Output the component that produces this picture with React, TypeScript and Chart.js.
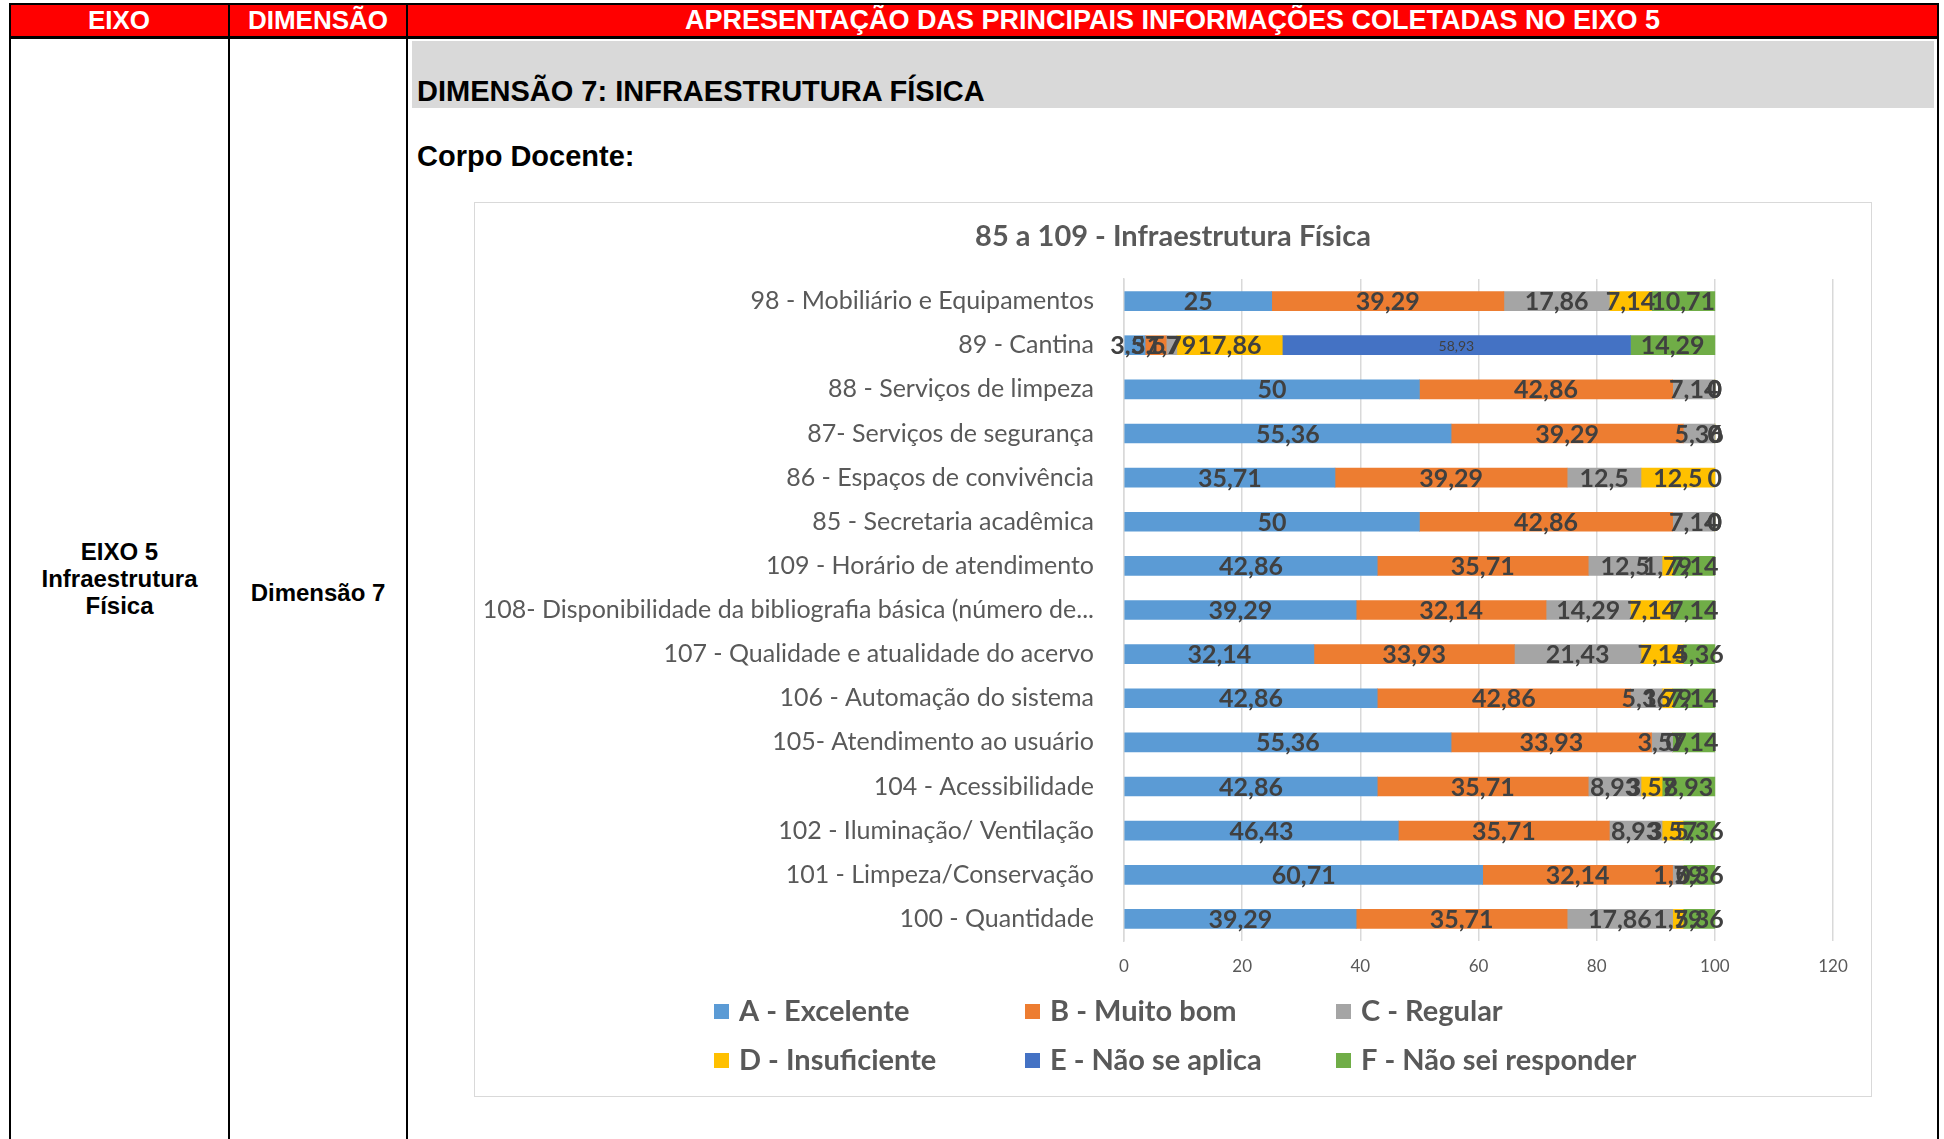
import React, { useEffect, useRef } from "react";
import { Chart, registerables } from "chart.js";

Chart.register(...registerables);

const chartTitle = "85 a 109 - Infraestrutura Física";

const categories = [
  "98 - Mobiliário e Equipamentos",
  "89 - Cantina",
  "88 - Serviços de limpeza",
  "87- Serviços de segurança",
  "86 - Espaços de convivência",
  "85 - Secretaria acadêmica",
  "109 - Horário de atendimento",
  "108- Disponibilidade da bibliografia básica (número de...",
  "107 - Qualidade e atualidade do acervo",
  "106 - Automação do sistema",
  "105- Atendimento ao usuário",
  "104 - Acessibilidade",
  "102 - Iluminação/ Ventilação",
  "101 - Limpeza/Conservação",
  "100 - Quantidade",
];

const seriesNames = [
  "A - Excelente",
  "B - Muito bom",
  "C - Regular",
  "D - Insuficiente",
  "E - Não se aplica",
  "F - Não sei responder",
];

const valuesA = [25, 3.57, 50, 55.36, 35.71, 50, 42.86, 39.29, 32.14, 42.86, 55.36, 42.86, 46.43, 60.71, 39.29];
const valuesB = [39.29, 3.57, 42.86, 39.29, 39.29, 42.86, 35.71, 32.14, 33.93, 42.86, 33.93, 35.71, 35.71, 32.14, 35.71];
const valuesC = [17.86, 1.79, 7.14, 5.36, 12.5, 7.14, 12.5, 14.29, 21.43, 5.36, 3.57, 8.93, 8.93, 1.79, 17.86];
const valuesD = [7.14, 17.86, 0, 0, 12.5, 0, 1.79, 7.14, 7.14, 1.79, 0, 3.57, 3.57, 0, 1.79];
const valuesE = [null, 58.93, null, null, null, null, null, null, null, null, null, null, null, null, null];
const valuesF = [10.71, 14.29, 0, 0, 0, 0, 7.14, 7.14, 5.36, 7.14, 7.14, 8.93, 5.36, 5.36, 5.36];

const seriesColors = ["#5B9BD5", "#ED7D31", "#A5A5A5", "#FFC000", "#4472C4", "#70AD47"];

const xTicks = [0, 20, 40, 60, 80, 100, 120];

const FONT = "Lato, 'Open Sans', sans-serif";

const labelPlugin = {
  id: "barLabels",
  afterDatasetsDraw(chart: any) {
    const ctx = chart.ctx;
    ctx.save();
    ctx.textAlign = "center";
    ctx.textBaseline = "middle";
    chart.data.datasets.forEach((ds: any, i: number) => {
      const meta = chart.getDatasetMeta(i);
      meta.data.forEach((el: any, j: number) => {
        const v = ds.data[j];
        if (v === null || v === undefined) return;
        const x = (el.x + el.base) / 2;
        const y = el.y;
        if (i === 4) {
          ctx.font = `14px ${FONT}`;
        } else {
          ctx.font = `bold 25px ${FONT}`;
        }
        ctx.fillStyle = "#404040";
        ctx.fillText(String(v).replace(".", ","), x, y + 1);
      });
    });
    ctx.restore();
  },
};

const titleAndLegendPlugin = {
  id: "titleAndLegend",
  afterDraw(chart: any) {
    const ctx = chart.ctx;
    ctx.save();
    // title centred on the whole chart box
    ctx.textAlign = "center";
    ctx.textBaseline = "middle";
    ctx.fillStyle = "#595959";
    ctx.font = `bold 29px ${FONT}`;
    ctx.fillText(chartTitle, chart.width / 2, 34);
    // legend grid
    ctx.textBaseline = "middle";
    ctx.textAlign = "left";
    chart.data.datasets.forEach((ds: any, k: number) => {
      const col = k % 3;
      const row = Math.floor(k / 3);
      const x = 239 + col * 311;
      const yc = 808 + row * 49;
      ctx.fillStyle = ds.backgroundColor;
      ctx.fillRect(x, yc - 7, 15, 15);
      ctx.fillStyle = "#595959";
      ctx.font = `bold 29px ${FONT}`;
      ctx.fillText(ds.label, x + 25, yc + 1);
    });
    ctx.restore();
  },
};

function BarChart() {
  const ref = useRef<HTMLCanvasElement>(null);
  useEffect(() => {
    if (!ref.current) return;
    const all = [valuesA, valuesB, valuesC, valuesD, valuesE, valuesF];
    const chart = new Chart(ref.current, {
      type: "bar",
      data: {
        labels: categories,
        datasets: all.map((d, i) => ({
          label: seriesNames[i],
          data: d as any,
          backgroundColor: seriesColors[i],
          borderWidth: 0,
          barThickness: 19,
        })),
      },
      options: {
        indexAxis: "y",
        animation: false,
        responsive: false,
        devicePixelRatio: 1,
        layout: { padding: { top: 76, left: 0, right: 38, bottom: 115 } },
        plugins: {
          legend: { display: false },
          tooltip: { enabled: false },
          title: { display: false },
        },
        scales: {
          x: {
            stacked: true,
            min: 0,
            max: 120,
            afterBuildTicks: (scale: any) => {
              scale.ticks = xTicks.map((v) => ({ value: v }));
            },
            afterFit: (scale: any) => {
              scale.height = 40;
            },
            grid: { color: "#D9D9D9", drawTicks: false, lineWidth: 1.5 },
            border: { display: false },
            ticks: {
              color: "#595959",
              font: { family: FONT, size: 17 },
              padding: 15,
            },
          },
          y: {
            stacked: true,
            afterFit: (scale: any) => {
              scale.width = 649;
            },
            grid: { display: false, drawTicks: false },
            border: { display: true, color: "#D9D9D9", width: 1.5 },
            ticks: {
              color: "#595959",
              font: { family: FONT, size: 25 },
              padding: 30,
              autoSkip: false,
            },
          },
        },
      },
      plugins: [labelPlugin, titleAndLegendPlugin],
    });
    return () => chart.destroy();
  }, []);
  return <canvas ref={ref} width={1396} height={893} style={{ display: "block" }} />;
}

const abs = (l: number, t: number, w: number, h: number, extra: any = {}) => ({
  position: "absolute" as const,
  left: l,
  top: t,
  width: w,
  height: h,
  ...extra,
});

export default function App() {
  const arial = "'Liberation Sans', Arial, sans-serif";
  const line = "#000";
  return (
    <div style={{ position: "absolute", left: 0, top: 0, width: 1944, height: 1139, overflow: "hidden", background: "#fff" }}>
      {/* red header */}
      <div style={abs(10, 5, 1928, 31, { background: "#FF0000" })} />
      <div style={abs(10, 5, 218, 31, { color: "#fff", font: `bold 26px ${arial}`, display: "flex", alignItems: "center", justifyContent: "center" })}>EIXO</div>
      <div style={abs(230, 5, 176, 31, { color: "#fff", font: `bold 26px ${arial}`, display: "flex", alignItems: "center", justifyContent: "center" })}>DIMENSÃO</div>
      <div style={abs(408, 5, 1529, 31, { color: "#fff", font: `bold 27px ${arial}`, display: "flex", alignItems: "center", justifyContent: "center", whiteSpace: "nowrap" })}>APRESENTAÇÃO DAS PRINCIPAIS INFORMAÇÕES COLETADAS NO EIXO 5</div>
      {/* lines */}
      <div style={abs(9, 3, 1930, 2, { background: line })} />
      <div style={abs(9, 36, 1930, 3, { background: line })} />
      <div style={abs(9, 3, 2, 1140, { background: line })} />
      <div style={abs(228, 3, 2, 1140, { background: line })} />
      <div style={abs(406, 3, 2, 1140, { background: line })} />
      <div style={abs(1937, 3, 2, 1140, { background: line })} />
      {/* left columns */}
      <div style={abs(11, 533, 217, 90, { font: `bold 24px ${arial}`, lineHeight: "27px", textAlign: "center", display: "flex", alignItems: "center", justifyContent: "center", color: "#000" })}>
        <div>EIXO 5<br />Infraestrutura<br />Física</div>
      </div>
      <div style={abs(230, 573, 176, 40, { font: `bold 24px ${arial}`, display: "flex", alignItems: "center", justifyContent: "center", color: "#000" })}>Dimensão 7</div>
      {/* gray band */}
      <div style={abs(412, 41, 1522, 67, { background: "#D9D9D9" })} />
      <div style={abs(417, 73, 1200, 36, { font: `bold 29px ${arial}`, lineHeight: "36px", color: "#000", whiteSpace: "nowrap" })}>DIMENSÃO 7: INFRAESTRUTURA FÍSICA</div>
      <div style={abs(417, 138, 600, 36, { font: `bold 29px ${arial}`, lineHeight: "36px", color: "#000", whiteSpace: "nowrap" })}>Corpo Docente:</div>
      {/* chart box */}
      <div style={abs(474, 202, 1396, 893, { border: "1px solid #D9D9D9", background: "#fff" })}>
        <BarChart />
      </div>
    </div>
  );
}
